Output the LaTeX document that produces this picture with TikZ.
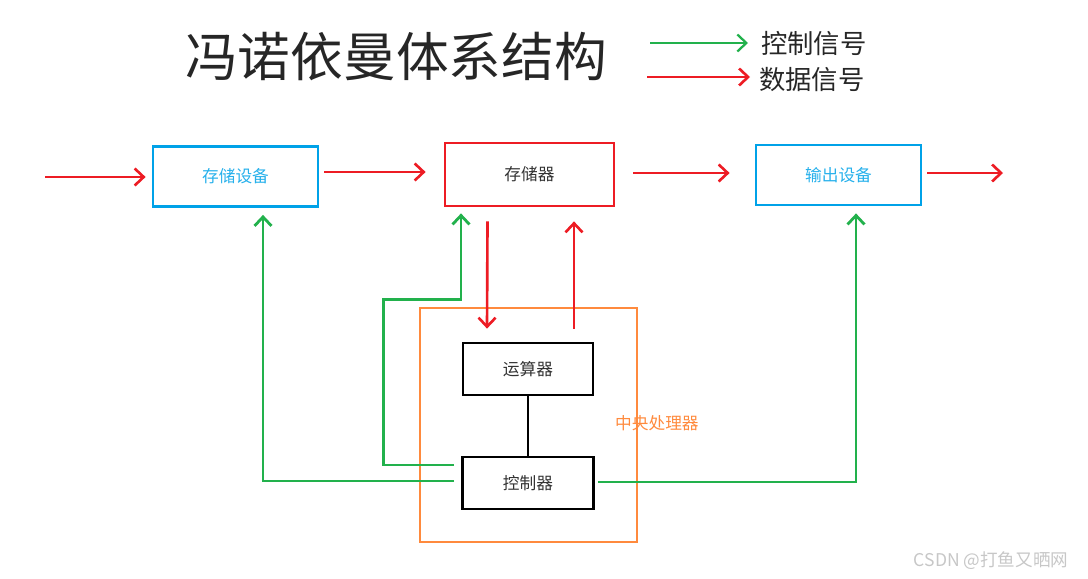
\documentclass[tikz,border=0pt]{standalone}
\usepackage{fontspec}
\setmainfont{Noto Sans CJK SC}
\usepackage{xcolor}
\usetikzlibrary{arrows.meta,calc,positioning}

\definecolor{sigred}{HTML}{ED1C24}
\definecolor{siggreen}{HTML}{22B14C}
\definecolor{devblue}{HTML}{00A2E8}
\definecolor{cpuorange}{HTML}{FF8A3D}

\begin{document}
\begin{tikzpicture}[
    x=0.02cm, y=-0.02cm,
    box/.style = {draw, line width=1.6pt, minimum width=3.3cm, minimum height=1.2cm,
                  font=\fontsize{9.5}{11}\selectfont, text=black!80},
    data/.style = {->, sigred, line width=1.5pt},
    ctrl/.style = {->, siggreen, line width=1.6pt},
    >={Straight Barb[length=1.8mm,width=3.4mm]},
  ]
    \useasboundingbox (0,0) rectangle (1088,578);

    % title and legend
    \node (T) [text=black!85] at (396,57) {\fontsize{30}{36}\selectfont 冯诺依曼体系结构};
    \coordinate (g1) at (650,43);
    \coordinate (r1) at (647,77);
    \node (LC) [anchor=west, text=black!85] at (755,44) {\fontsize{15}{18}\selectfont 控制信号};
    \node (LD) [anchor=west, text=black!85] at (753,80) {\fontsize{15}{18}\selectfont 数据信号};
    \draw[ctrl, line width=1.3pt] (g1) -- ([xshift=-0.14cm]LC.west |- g1);
    \draw[data] (r1) -- ([xshift=-0.06cm]LD.west |- r1);

    % devices
    \node (Store) [box, devblue, text=devblue!85] at (235.5,176.5) {存储设备};
    \node (Mem) [box, sigred, text=black!80, minimum width=3.38cm, minimum height=1.26cm] at (529.5,174.5) {存储器};
    \node (Out) [box, devblue, text=devblue!85] at (838.5,175) {输出设备};

    % cpu
    \node (CPU) [draw, cpuorange, line width=1.6pt, minimum width=4.34cm, minimum height=4.68cm] at (528.5,425) {};
    \node (CPUL) [anchor=west, text=cpuorange, font=\fontsize{9.5}{11}\selectfont] at (609,423) {中央处理器};
    \node (ALU) [box, minimum width=2.6cm, minimum height=1.04cm] at (528,369) {运算器};
    \node (Ctrl) [box, minimum width=2.62cm, minimum height=1.04cm] at (528,483) {控制器};
    \draw[line width=1.4pt] (ALU) -- (Ctrl);

    % data signals
    \coordinate (in) at (45,177);
    \coordinate (outend) at (1003,173);
    \draw[data] (in) -- ([xshift=-0.12cm]Store.west |- in);
    \draw[data] ([xshift=0.1cm]Store.east |- 0,172) -- ([xshift=-0.36cm]Mem.west |- 0,172);
    \draw[data] ([xshift=0.36cm]Mem.east |- 0,173) -- ([xshift=-0.5cm]Out.west |- 0,173);
    \draw[data] ([xshift=0.1cm]Out.east |- outend) -- (outend);
    \draw[data] ($(Mem.south)+(-42,14)$) -- ($(ALU.north)+(-41,-13)$);
    \draw[data] ($(CPU.north)+(45.5,22)$) -- ($(Mem.south)+(44.5,14)$);

    % control signals
    \coordinate (bend) at ($(CPU.north west)+(-35,-7)$);
    \draw[ctrl] ($(Ctrl.west)+(-7,-2)$) -| ($(Store.south)+(27.5,7)$);
    \draw[ctrl] ($(Ctrl.west)+(-7,-18)$) -| (bend) -| ($(Mem.south)+(-68.5,6)$);
    \draw[ctrl] ($(Ctrl.east)+(3,-1)$) -| ($(Out.south)+(17.5,7)$);

    % watermark
    \node (W) at (991,561) {\color{black!22}\fontsize{10}{12}\selectfont CSDN @打鱼又晒网};
\end{tikzpicture}
\end{document}
